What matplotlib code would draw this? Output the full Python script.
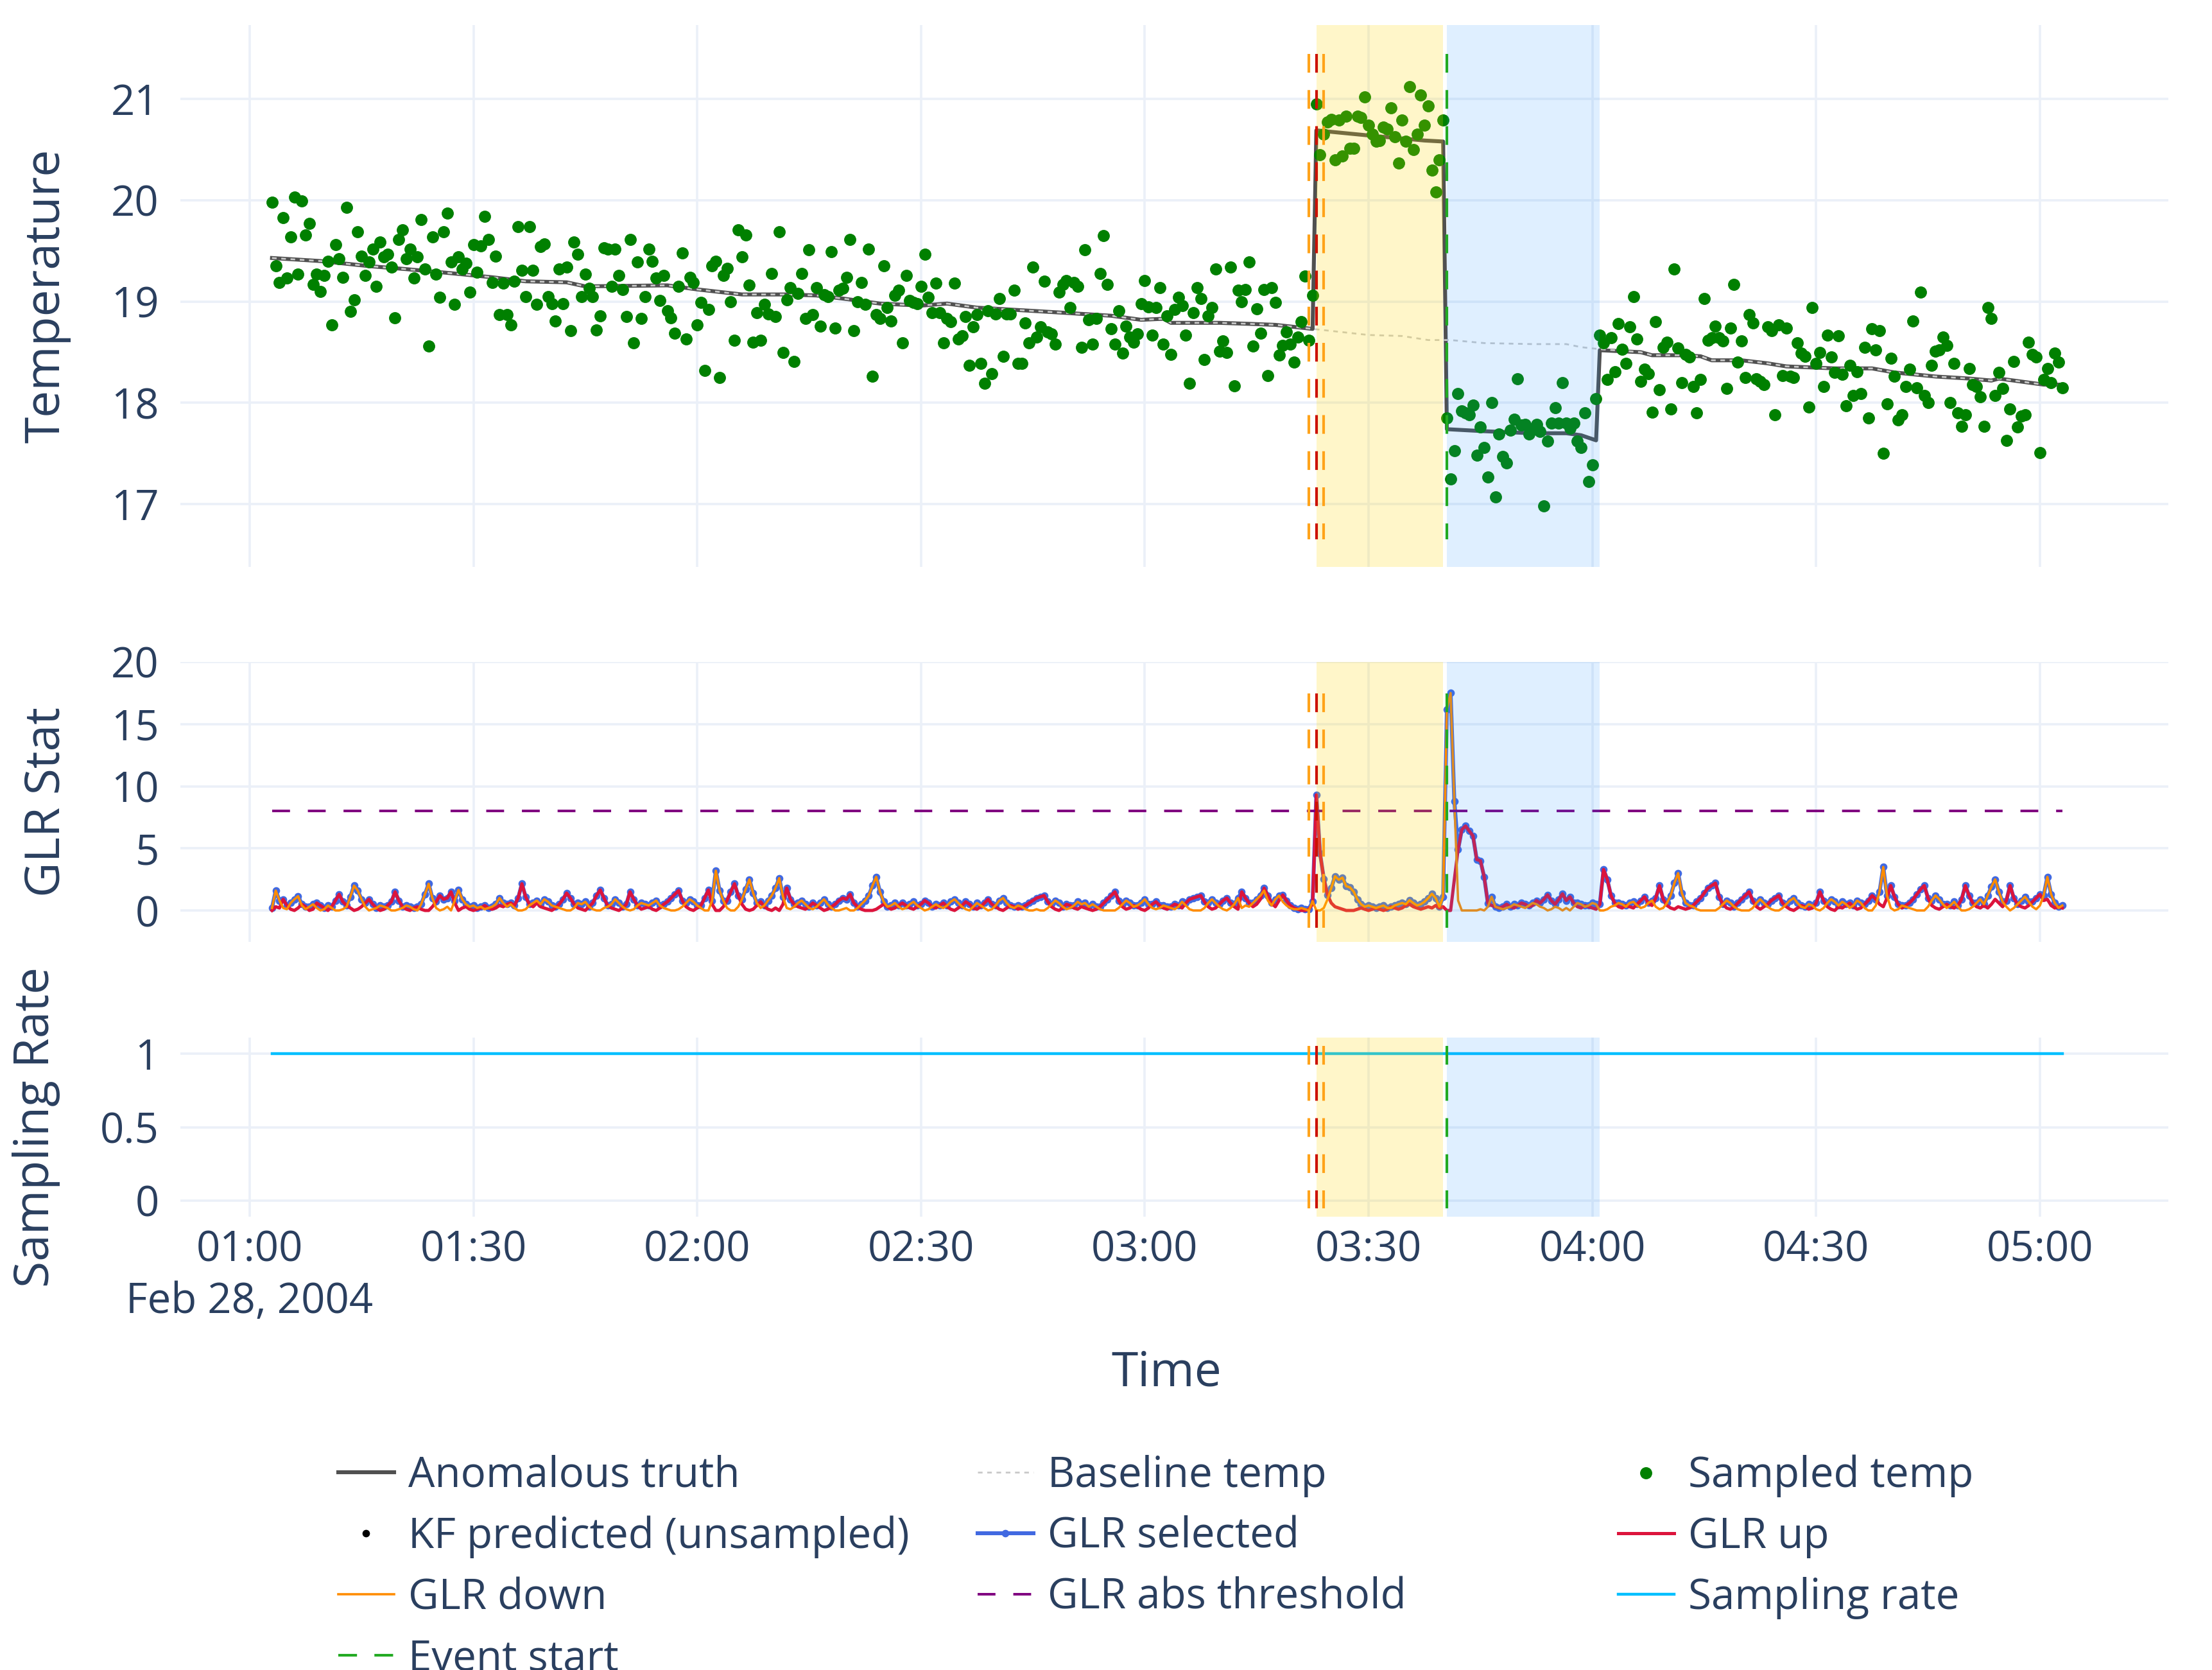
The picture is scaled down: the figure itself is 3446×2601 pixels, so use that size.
import numpy as np
import pandas as pd
import matplotlib
matplotlib.use("Agg")
import matplotlib.pyplot as plt
import matplotlib.dates as mdates
from matplotlib.ticker import FuncFormatter, FixedLocator

plt.rcParams['font.family'] = ['Open Sans', 'DejaVu Sans']

# ---------------- data ----------------
day = "2004-02-28"
start_time = "01:03:00"
sample_step = "30s"

# sampled temperature, one value per 30 s
sampled_pre = [
    19.98, 19.35, 19.19, 19.83, 19.23, 19.64, 20.03, 19.27, 19.99, 19.66,
    19.77, 19.17, 19.27, 19.10, 19.26, 19.40, 18.77, 19.56, 19.42, 19.24,
    19.93, 18.90, 19.02, 19.69, 19.45, 19.26, 19.39, 19.52, 19.15, 19.59,
    19.44, 19.47, 19.34, 18.84, 19.61, 19.71, 19.42, 19.52, 19.23, 19.44,
    19.81, 19.32, 18.56, 19.64, 19.27, 19.04, 19.69, 19.87, 19.39, 18.97,
    19.44, 19.32, 19.38, 19.09, 19.56, 19.29, 19.55, 19.84, 19.61, 19.19,
    19.45, 18.87, 19.18, 18.87, 18.77, 19.20, 19.74, 19.31, 19.05,
    19.74, 19.31, 18.97, 19.54, 19.57, 19.05, 18.98, 18.81, 19.32, 18.98,
    19.34, 18.71, 19.59, 19.47, 19.05, 19.27, 19.13, 19.05, 18.72, 18.86,
    19.53, 19.52, 19.15, 19.52, 19.26, 19.12, 18.85, 19.61, 18.59, 19.39,
    18.83, 19.05, 19.52, 19.40, 19.23, 19.01, 19.26, 18.91, 18.84, 18.69,
    19.15, 19.48, 18.63, 19.24, 19.19, 18.77, 18.99, 18.32, 18.92, 19.35,
    19.40, 18.25, 19.26, 19.33, 19.00, 18.62, 19.71, 19.44, 19.66, 19.16,
    18.60, 18.89, 18.62, 18.97, 18.88, 19.28, 18.85, 19.69, 18.50, 19.02,
    19.14, 18.41, 19.08, 19.28, 18.83, 19.51, 18.87, 19.14, 18.76, 19.07,
    19.05, 19.49, 18.74, 19.11, 19.13, 19.24, 19.61, 18.71, 19.00, 19.19,
    18.97, 19.52, 18.26, 18.87, 18.83, 19.35, 18.94, 18.81, 19.06, 19.11,
    18.59, 19.26, 19.01, 18.99, 18.98, 19.15, 19.47, 19.04, 18.89, 19.18,
    18.89, 18.59, 18.83, 18.80, 19.18, 18.63, 18.66, 18.85, 18.37, 18.75,
    18.87, 18.39, 18.19, 18.91, 18.29, 18.88, 19.03, 18.46, 18.88, 18.88,
    19.11, 18.39, 18.39, 18.79, 18.59, 19.34, 18.65, 18.75, 19.20, 18.70,
    18.68, 18.58, 19.09, 19.17, 19.21, 18.94, 19.19, 19.15, 18.55, 19.51,
    18.82, 18.58, 18.83, 19.28, 19.65, 19.17, 18.73, 18.58, 18.91, 18.49,
    18.76, 18.65, 18.60, 18.68, 18.98, 19.21, 18.95, 18.67, 18.94, 19.14,
    18.58, 18.86, 18.48, 18.92, 19.04, 18.96, 18.67, 18.19, 18.89, 19.14,
    19.03, 18.43, 18.86, 18.94, 19.32, 18.51, 18.61, 18.50, 19.34, 18.17,
    19.11, 19.00, 19.12, 19.39, 18.56, 18.93, 18.69, 19.12, 18.27, 19.14,
    18.99, 18.47, 18.57, 18.70, 18.58, 18.40, 18.65, 18.80, 19.25, 18.62,
    19.06,
]
sampled_jump_up = [
    20.95, 20.45, 20.65, 20.77, 20.80, 20.40, 20.79, 20.44, 20.83, 20.51,
    20.51, 20.83, 20.82, 21.02, 20.74, 20.65, 20.58, 20.59, 20.72, 20.70,
    20.91, 20.63, 20.37, 20.79, 20.58, 21.12, 20.50, 20.65, 21.04, 20.74,
    20.93, 20.30, 20.08, 20.40, 20.79,
]
sampled_jump_down = [
    17.85, 17.25, 17.53, 18.09, 17.92, 17.90, 17.88, 17.98, 17.48, 17.76,
    17.56, 17.27, 18.00, 17.07, 17.69, 17.47, 17.41, 17.73, 17.84, 18.24,
    17.78, 17.79, 17.69, 17.74, 17.79, 17.72, 16.98, 17.62, 17.80, 17.95,
    17.80, 18.20, 17.80, 17.75, 17.80, 17.62, 17.56, 17.90, 17.22, 17.39,
    18.04,
]
sampled_post = [
    18.67, 18.59, 18.23, 18.64, 18.31, 18.78, 18.53, 18.39, 18.75, 19.05,
    18.63, 18.21, 18.33, 18.29, 17.91, 18.80, 18.13, 18.55, 18.60, 17.94,
    19.32, 18.54, 18.20, 18.48, 18.45, 18.16, 17.90, 18.23, 19.03, 18.62,
    18.64, 18.76, 18.64, 18.61, 18.14, 18.74, 19.17, 18.40, 18.61, 18.25,
    18.87, 18.79, 18.24, 18.21, 18.18, 18.75, 18.71, 17.88, 18.77, 18.27,
    18.74, 18.26, 18.25, 18.59, 18.49, 18.46, 17.96, 18.94, 18.39, 18.50,
    18.16, 18.67, 18.45, 18.30,
    18.66, 18.28, 17.97, 18.37, 18.07, 18.31, 18.09, 18.55, 17.85, 18.73,
    18.52, 18.71, 17.50, 17.99, 18.44, 18.26, 17.83, 17.88, 18.16, 18.33,
    18.81, 18.15, 19.09, 18.07, 18.00, 18.37, 18.51, 18.52, 18.65, 18.57,
    18.00, 18.39, 17.90, 17.77, 17.88, 18.34, 18.18, 18.16, 18.06, 17.77,
    18.94, 18.83, 18.07, 18.30, 18.14, 17.63, 17.94, 18.41, 17.76, 17.87,
    17.88, 18.60, 18.48, 18.45, 17.51, 18.23, 18.34, 18.20, 18.49, 18.40,
    18.15,
]

# baseline temperature (knots)
baseline_times = [
    "01:03:00", "01:09:30", "01:16:00", "01:21:00", "01:27:00", "01:32:30",
    "01:37:00", "01:42:30", "01:45:00", "01:56:00", "02:00:00", "02:06:00",
    "02:12:00", "02:16:00", "02:19:30", "02:24:30", "02:30:00", "02:33:30",
    "02:37:30", "02:44:30", "02:49:00", "02:55:30", "02:59:30", "03:02:30",
    "03:03:30", "03:10:00", "03:14:00", "03:17:30", "03:22:30", "03:30:00",
    "03:34:30", "03:38:00", "03:41:00", "03:45:30", "03:52:00", "03:56:30",
    "03:58:30", "04:01:00", "04:06:30", "04:08:00", "04:12:00", "04:14:30",
    "04:16:00", "04:20:00", "04:23:30", "04:26:00", "04:32:30", "04:37:30",
    "04:40:30", "04:46:00", "04:50:30", "04:53:30", "04:54:30", "04:57:30",
    "05:00:30", "05:03:00",
]
baseline_temp = [
    19.43, 19.40, 19.35, 19.32, 19.28, 19.24,
    19.20, 19.19, 19.15, 19.16, 19.12, 19.07,
    19.07, 19.06, 19.03, 18.98, 18.96, 18.98,
    18.94, 18.91, 18.89, 18.86, 18.82, 18.83,
    18.79, 18.79, 18.78, 18.77, 18.73, 18.67,
    18.66, 18.62, 18.62, 18.59, 18.58, 18.58,
    18.55, 18.53, 18.50, 18.47, 18.47, 18.46,
    18.42, 18.42, 18.39, 18.36, 18.34, 18.34,
    18.30, 18.26, 18.24, 18.22, 18.24, 18.21,
    18.18, 18.18,
]
# anomalous truth inside the injected event (outside it equals the baseline)
anomaly_times = [
    "03:23:00", "03:30:00", "03:37:30", "03:40:00", "03:40:30", "03:45:30",
    "03:52:00", "03:56:30", "03:58:30", "04:00:30", "04:01:00",
]
anomaly_temp = [
    20.69, 20.64, 20.59, 20.58, 17.74, 17.72,
    17.70, 17.70, 17.68, 17.63, 18.52,
]

# GLR statistics, one value per 30 s (rows = 10 minutes)
glr_up = [
    0.0, 0.3, 0.2, 0.9, 0.4, 0.1, 0.0, 0.2, 0.5, 0.3, 0.0, 0.1, 0.6, 0.4, 0.2, 0.0, 0.3, 0.8, 1.3, 0.7,
    0.4, 0.2, 0.0, 0.1, 0.3, 0.6, 0.9, 0.5, 0.2, 0.0, 0.1, 0.4, 0.7, 1.5, 0.8, 0.3, 0.1, 0.0, 0.2, 0.3,
    0.1, 0.0, 0.0, 0.3, 0.7, 1.2, 0.9, 1.0, 1.5, 0.6, 0.0, 0.2, 0.3, 0.1, 0.0, 0.1, 0.2, 0.4, 0.2, 0.1,
    0.2, 0.4, 0.3, 0.5, 0.6, 0.4, 1.0, 2.15, 1.1, 0.5, 0.3, 0.6, 0.3, 0.2, 0.1, 0.0, 0.2, 0.5, 0.9, 1.4,
    1.0, 0.5, 0.2, 0.1, 0.0, 0.3, 0.6, 1.2, 1.65, 1.0, 0.4, 0.2, 0.1, 0.0, 0.2, 0.5, 1.5, 0.9, 0.4, 0.1,
    0.2, 0.3, 0.1, 0.0, 0.2, 0.5, 0.7, 1.0, 1.3, 1.6, 0.8, 0.3, 0.1, 0.0, 0.2, 0.4, 1.0, 1.65, 0.5, 0.0,
    0.0, 0.3, 0.8, 1.5, 2.15, 1.2, 0.5, 0.1, 0.0, 0.1, 0.4, 0.7, 0.3, 0.1, 0.0, 0.2, 0.0, 0.5, 1.8, 0.9,
    0.5, 0.3, 0.2, 0.1, 0.3, 0.6, 0.4, 0.2, 0.0, 0.1, 0.3, 0.5, 0.8, 1.0, 0.9, 1.3, 0.6, 0.3, 0.1, 0.0,
    0.0, 0.0, 0.1, 0.3, 0.5, 0.3, 0.1, 0.2, 0.4, 0.6, 0.4, 0.2, 0.1, 0.3, 0.5, 0.8, 0.6, 0.3, 0.2, 0.4,
    0.6, 0.3, 0.1, 0.0, 0.2, 0.4, 0.7, 0.5, 0.2, 0.1, 0.3, 0.6, 0.9, 0.5, 0.3, 0.1, 0.0, 0.2, 0.4, 0.3,
    0.1, 0.2, 0.4, 0.6, 0.8, 1.0, 1.1, 1.2, 0.7, 0.3, 0.1, 0.0, 0.2, 0.5, 0.4, 0.2, 0.1, 0.3, 0.2, 0.1,
    0.0, 0.1, 0.3, 0.6, 0.9, 1.2, 1.5, 0.8, 0.3, 0.1, 0.2, 0.4, 0.3, 0.1, 0.0, 0.2, 0.5, 0.7, 0.4, 0.2,
    0.1, 0.3, 0.5, 0.4, 0.2, 0.6, 0.9, 1.0, 1.1, 1.2, 0.7, 0.3, 0.1, 0.2, 0.5, 0.8, 1.0, 0.6, 0.3, 0.1,
    1.5, 1.0, 0.6, 0.3, 0.5, 0.9, 1.8, 1.2, 0.6, 0.3, 0.8, 1.25, 0.8, 0.4, 0.2, 0.1, 0.0, 0.0, 0.1, 0.5,
    9.3, 4.6, 2.55, 1.26, 0.6, 0.3, 0.2, 0.1, 0.0, 0.0, 0.0, 0.1, 0.2, 0.1, 0.0, 0.1, 0.2, 0.1, 0.0, 0.1,
    0.3, 0.2, 0.1, 0.2, 0.4, 0.5, 0.3, 0.2, 0.1, 0.2, 0.3, 0.2, 0.4, 0.2, 0.3, 0.0, 0.0, 2.5, 4.9, 6.5,
    6.8, 6.4, 6.0, 4.1, 4.0, 2.7, 0.57, 0.4, 0.3, 0.2, 0.3, 0.5, 0.3, 0.2, 0.4, 0.6, 0.5, 0.3, 0.4, 0.8,
    0.6, 0.9, 1.26, 0.8, 0.5, 0.9, 1.34, 0.8, 1.1, 0.6, 0.3, 0.2, 0.4, 0.3, 0.2, 0.1, 0.5, 3.3, 2.5, 1.2,
    0.6, 0.3, 0.2, 0.4, 0.3, 0.2, 0.5, 0.8, 1.1, 0.6, 0.4, 1.0, 2.0, 0.9, 0.4, 0.2, 0.1, 0.3, 0.2, 0.1,
    0.2, 0.4, 0.7, 1.0, 1.4, 1.8, 2.0, 2.2, 1.1, 0.5, 0.2, 0.1, 0.3, 0.6, 0.9, 1.2, 1.5, 0.8, 0.3, 0.1,
    0.3, 0.5, 0.8, 1.0, 1.2, 0.6, 0.3, 0.1, 0.0, 0.2, 0.4, 0.3, 0.1, 0.2, 0.6, 1.5, 0.8, 0.3, 0.1, 0.0,
    0.3, 0.2, 0.4, 0.6, 0.3, 0.1, 0.2, 0.5, 0.8, 1.2, 0.9, 0.5, 0.3, 1.0, 2.0, 1.1, 0.5, 0.2, 0.4, 0.6,
    0.9, 1.3, 1.7, 2.0, 1.0, 0.4, 0.2, 0.1, 0.3, 0.5, 0.3, 0.2, 0.4, 0.9, 2.0, 1.2, 0.6, 0.3, 0.2, 0.4,
    0.2, 0.5, 0.9, 0.6, 0.3, 0.8, 2.0, 1.0, 0.5, 0.3, 0.2, 0.4, 0.7, 1.0, 1.3, 0.8, 0.9, 0.4, 0.2, 0.3,
    0.2,
]
glr_down = [
    0.2, 1.6, 0.8, 0.2, 0.1, 0.6, 0.9, 1.15, 0.4, 0.1, 0.3, 0.5, 0.2, 0.0, 0.1, 0.4, 0.2, 0.0, 0.0, 0.1,
    0.3, 1.1, 2.0, 1.6, 0.9, 0.3, 0.0, 0.1, 0.2, 0.4, 0.3, 0.2, 0.0, 0.0, 0.1, 0.2, 0.4, 0.3, 0.1, 0.0,
    0.5, 1.3, 2.15, 1.0, 0.2, 0.0, 0.1, 0.3, 0.0, 0.8, 1.65, 0.9, 0.5, 0.3, 0.4, 0.2, 0.3, 0.1, 0.2, 0.3,
    0.5, 1.0, 0.6, 0.3, 0.5, 0.2, 0.0, 0.0, 0.1, 0.4, 0.6, 0.8, 0.5, 0.9, 0.7, 0.4, 0.3, 0.2, 0.1, 0.0,
    0.0, 0.2, 0.6, 0.5, 0.7, 0.3, 0.1, 0.0, 0.0, 0.2, 0.3, 0.5, 0.9, 0.6, 0.3, 0.1, 0.0, 0.1, 0.4, 0.6,
    0.5, 0.4, 0.6, 0.8, 0.4, 0.2, 0.1, 0.0, 0.0, 0.1, 0.3, 0.6, 0.9, 0.7, 0.4, 0.2, 0.0, 0.0, 0.8, 3.2,
    1.6, 0.8, 0.2, 0.0, 0.0, 0.3, 0.9, 1.7, 2.5, 1.4, 0.6, 0.2, 0.4, 0.8, 1.2, 1.8, 2.6, 1.1, 0.2, 0.1,
    0.3, 0.6, 0.8, 0.5, 0.2, 0.1, 0.3, 0.6, 0.9, 0.5, 0.2, 0.0, 0.0, 0.1, 0.2, 0.0, 0.0, 0.2, 0.5, 0.8,
    1.2, 2.0, 2.7, 1.5, 0.7, 0.3, 0.4, 0.6, 0.3, 0.1, 0.2, 0.5, 0.7, 0.4, 0.2, 0.0, 0.1, 0.3, 0.5, 0.3,
    0.2, 0.4, 0.7, 0.9, 0.6, 0.3, 0.1, 0.0, 0.3, 0.6, 0.4, 0.2, 0.0, 0.1, 0.4, 0.8, 1.0, 0.6, 0.3, 0.2,
    0.4, 0.3, 0.1, 0.0, 0.0, 0.1, 0.0, 0.0, 0.2, 0.5, 0.8, 0.6, 0.3, 0.1, 0.2, 0.4, 0.7, 0.5, 0.6, 0.3,
    0.5, 0.3, 0.1, 0.0, 0.0, 0.0, 0.0, 0.2, 0.5, 0.8, 0.6, 0.3, 0.4, 0.6, 0.9, 0.5, 0.2, 0.1, 0.2, 0.4,
    0.3, 0.2, 0.1, 0.3, 0.7, 0.4, 0.1, 0.0, 0.0, 0.0, 0.2, 0.6, 0.9, 0.6, 0.3, 0.1, 0.0, 0.2, 0.5, 1.0,
    0.2, 0.4, 0.3, 0.6, 0.9, 1.2, 1.6, 0.8, 0.4, 0.9, 1.2, 0.7, 0.4, 0.2, 0.1, 0.1, 0.2, 0.1, 0.0, 0.75,
    0.0, 0.0, 0.2, 0.9, 1.8, 2.76, 2.47, 2.64, 1.95, 1.86, 1.52, 0.9, 0.5, 0.3, 0.4, 0.3, 0.2, 0.3, 0.4, 0.2,
    0.2, 0.4, 0.5, 0.6, 0.5, 0.83, 0.6, 0.4, 0.5, 0.7, 1.0, 1.34, 1.0, 0.3, 1.1, 16.2, 17.5, 8.8, 0.8, 0.0,
    0.0, 0.0, 0.0, 0.0, 0.1, 0.0, 0.3, 1.1, 0.3, 0.2, 0.1, 0.2, 0.3, 0.5, 0.4, 0.3, 0.2, 0.4, 0.6, 0.5,
    0.3, 0.2, 0.0, 0.1, 0.3, 0.2, 0.0, 0.2, 0.0, 0.3, 0.6, 0.5, 0.3, 0.4, 0.6, 0.5, 0.0, 0.0, 0.1, 0.3,
    0.4, 0.6, 0.5, 0.3, 0.6, 0.7, 0.4, 0.2, 0.3, 0.6, 0.8, 0.3, 0.1, 0.2, 0.6, 1.2, 2.2, 3.0, 1.4, 0.6,
    0.4, 0.3, 0.1, 0.0, 0.0, 0.0, 0.0, 0.0, 0.2, 0.5, 0.8, 0.6, 0.3, 0.1, 0.0, 0.0, 0.0, 0.2, 0.6, 0.9,
    0.6, 0.3, 0.1, 0.0, 0.0, 0.2, 0.5, 0.8, 1.0, 0.6, 0.3, 0.2, 0.5, 0.4, 0.1, 0.0, 0.2, 0.6, 0.9, 0.7,
    0.4, 0.7, 0.5, 0.2, 0.4, 0.8, 0.6, 0.2, 0.0, 0.0, 0.4, 1.5, 3.5, 1.2, 0.2, 0.0, 0.1, 0.4, 0.3, 0.2,
    0.1, 0.0, 0.0, 0.0, 0.3, 0.8, 1.2, 0.9, 0.5, 0.2, 0.4, 0.7, 0.3, 0.0, 0.0, 0.1, 0.3, 0.6, 0.9, 0.5,
    1.2, 1.9, 2.5, 1.5, 0.7, 0.3, 0.0, 0.2, 0.5, 0.8, 1.1, 0.7, 0.3, 0.1, 0.4, 1.2, 2.7, 1.3, 0.6, 0.2,
    0.4,
]
glr_abs_threshold = 8.0
sampling_rate_value = 1.0
kf_predicted_times = []      # every step was sampled, so no unsampled predictions
kf_predicted_values = []

event_start_time = "03:40:30"
detection_lines = [("03:22:00", "#FFA31A"), ("03:23:00", "#CC1100"), ("03:24:00", "#FFA31A")]
jump_up_span = ("03:23:00", "03:40:00")
jump_down_span = ("03:40:30", "04:01:00")

x_view = ("00:50:43", "05:17:13")
time_ticks = ["01:00", "01:30", "02:00", "02:30", "03:00", "03:30", "04:00", "04:30", "05:00"]

# ---------------- helpers ----------------
def tnum(hms):
    return mdates.date2num(pd.Timestamp(f"{day} {hms}").to_pydatetime())

sampled_temp = sampled_pre + sampled_jump_up + sampled_jump_down + sampled_post
sample_times = pd.date_range(f"{day} {start_time}", periods=len(sampled_temp), freq=sample_step)
xs = mdates.date2num(sample_times.to_pydatetime())

base_x = np.array([tnum(t) for t in baseline_times])
base_y = np.array(baseline_temp)
anom_x = np.array([tnum(t) for t in anomaly_times])
before = base_x < anom_x[0]
after = base_x > anom_x[-1]
truth_x = np.concatenate([base_x[before], anom_x, base_x[after]])
truth_y = np.concatenate([base_y[before], anomaly_temp, base_y[after]])

up = np.array(glr_up)
down = np.array(glr_down)
selected = np.maximum(up, down)

# ---------------- styling ----------------
TEXT = '#2a3f5f'
GRID = '#EBF0F8'
truth_color = '#505050'
baseline_color = '#C9C9C9'
sampled_color = '#008000'
selected_color = '#4169E1'
up_color = '#DC143C'
down_color = '#FF8C00'
threshold_color = '#800080'
rate_color = '#00BFFF'
event_color = '#22AA22'
TICK_FS = 23.5
TITLE_FS = 27

W, H = 3446, 2601
fig = plt.figure(figsize=(W / 200, H / 200), dpi=200)
fig.patch.set_facecolor('white')

def px_axes(top, bottom, left=281, right=3378):
    return fig.add_axes([left / W, 1 - bottom / H, (right - left) / W, (bottom - top) / H])

ax1 = px_axes(39, 883)
ax2 = px_axes(1031, 1467)
ax3 = px_axes(1616, 1895)
axes = [ax1, ax2, ax3]

tick_locs = [tnum(t + ":00") for t in time_ticks]
for ax in axes:
    ax.set_facecolor('white')
    for s in ax.spines.values():
        s.set_visible(False)
    ax.set_axisbelow(True)
    ax.grid(True, color=GRID, lw=1.3)
    ax.set_xlim(tnum(x_view[0]), tnum(x_view[1]))
    ax.xaxis.set_major_locator(FixedLocator(tick_locs))
    ax.tick_params(length=0, labelsize=TICK_FS, labelcolor=TEXT, pad=12)
    ax.tick_params(axis='x', pad=7)

ax1.tick_params(axis='x', labelbottom=False)
ax2.tick_params(axis='x', labelbottom=False)
ax3.xaxis.set_major_formatter(FuncFormatter(lambda v, p: mdates.num2date(v).strftime('%H:%M')))
ax3.text(tick_locs[0], -0.475, "Feb 28, 2004", transform=ax3.get_xaxis_transform(),
         ha='center', va='center', fontsize=TICK_FS, color=TEXT)

# --- top panel
ax1.plot(truth_x, truth_y, color=truth_color, lw=2.2, zorder=2, label='Anomalous truth')
ax1.plot(base_x, base_y, color=baseline_color, lw=1.0, dashes=(2.6, 2.6), zorder=2.1, label='Baseline temp')
ax1.plot(xs, sampled_temp, ls='none', marker='o', ms=6.8, mew=0, color=sampled_color, zorder=2.2,
         label='Sampled temp')
ax1.plot(kf_predicted_times, kf_predicted_values, ls='none', marker='o', ms=3.2, color='black',
         label='KF predicted (unsampled)')
ax1.set_ylim(16.38, 21.73)
ax1.set_yticks([17, 18, 19, 20, 21])

# --- GLR panel
ax2.plot(xs, selected, color=selected_color, lw=2.2, marker='o', ms=4.2, mew=0, zorder=2,
         label='GLR selected')
ax2.plot(xs, up, color=up_color, lw=1.8, zorder=2.1, label='GLR up')
ax2.plot(xs, down, color=down_color, lw=1.3, zorder=2.2, label='GLR down')
ax2.plot(xs, np.full(len(xs), glr_abs_threshold), color=threshold_color, lw=1.45,
         dashes=(6.9, 6.9), zorder=2.3, label='GLR abs threshold')
ax2.set_ylim(-2.53, 20.0)
ax2.set_yticks([0, 5, 10, 15, 20])

# --- sampling rate panel
ax3.plot(xs, np.full(len(xs), sampling_rate_value), color=rate_color, lw=1.6, zorder=2,
         label='Sampling rate')
ax3.set_ylim(-0.11, 1.11)
ax3.set_yticks([0, 0.5, 1])
ax3.set_yticklabels(['0', '0.5', '1'])

# --- shaded event windows and markers (drawn on top, translucent)
line_span = {ax1: (0.947, 0.051), ax2: (0.888, 0.050), ax3: (0.953, 0.048)}
for ax in axes:
    ax.axvspan(tnum(jump_up_span[0]), tnum(jump_up_span[1]), color='#FFD700', alpha=0.21, lw=0, zorder=3)
    ax.axvspan(tnum(jump_down_span[0]), tnum(jump_down_span[1]), color='#1E90FF', alpha=0.14, lw=0, zorder=3)
    y0, y1 = line_span[ax]
    for t, c in detection_lines:
        ax.plot([tnum(t), tnum(t)], [y0, y1], transform=ax.get_xaxis_transform(), color=c,
                lw=1.5, dashes=(7, 6.5), zorder=4)
    ev, = ax.plot([tnum(event_start_time)] * 2, [y0, y1], transform=ax.get_xaxis_transform(),
                  color=event_color, lw=1.5, dashes=(7, 6.5), zorder=4, label='Event start')

# --- axis titles
for ax, lab, xc in [(ax1, 'Temperature', -0.0673), (ax2, 'GLR Stat', -0.0673), (ax3, 'Sampling Rate', -0.0725)]:
    ax.set_ylabel(lab, fontsize=TITLE_FS, color=TEXT, va='center')
    ax.yaxis.set_label_coords(xc, 0.5)
ax3.set_xlabel('Time', fontsize=TITLE_FS, color=TEXT, va='center')
ax3.xaxis.set_label_coords((1817 - 281) / (3378 - 281), (1895 - 2139) / (1895 - 1616))

# --- legend (three columns, filled row by row)
h1, l1 = ax1.get_legend_handles_labels()
h2, l2 = ax2.get_legend_handles_labels()
h3, l3 = ax3.get_legend_handles_labels()
hd = dict(zip(l1 + l2 + l3, h1 + h2 + h3))
hd['Event start'] = ev
columns = [
    (527, ['Anomalous truth', 'KF predicted (unsampled)', 'GLR down', 'Event start']),
    (1523, ['Baseline temp', 'GLR selected', 'GLR abs threshold']),
    (2521, ['Sampled temp', 'GLR up', 'Sampling rate']),
]
for xpx, names in columns:
    fig.legend([hd[n] for n in names], names, loc='upper left',
               bbox_to_anchor=(xpx / W, 1 - 2266 / H), frameon=False, fontsize=23.6,
               handlelength=1.32, handletextpad=0.34, labelspacing=0.44,
               borderpad=0, borderaxespad=0, labelcolor=TEXT, numpoints=1)

fig.savefig('out.png', dpi=200)
